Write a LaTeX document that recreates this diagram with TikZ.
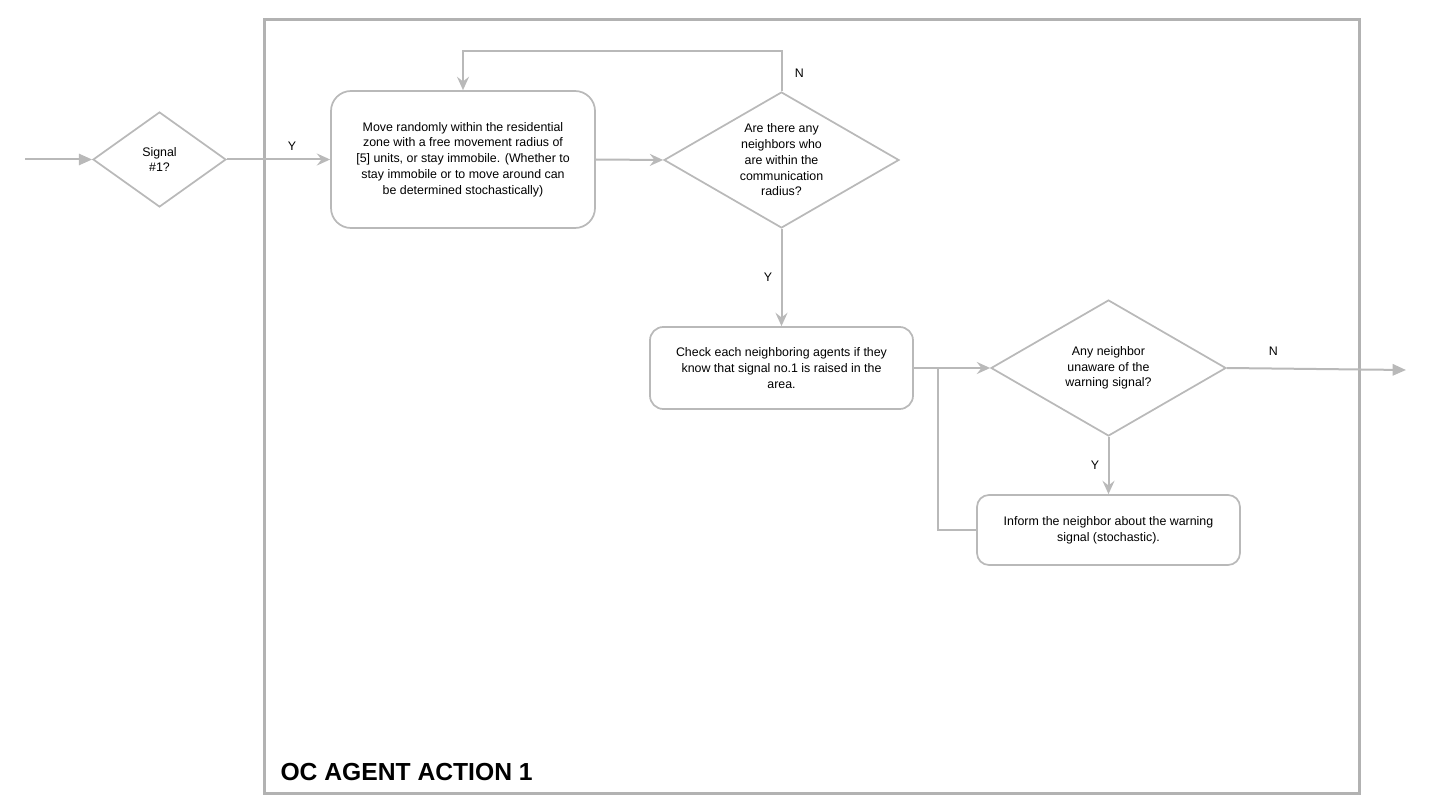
\documentclass[tikz,border=0pt]{standalone}
\usepackage{fontspec}
\setmainfont{Liberation Sans}
\usetikzlibrary{shapes.geometric,arrows.meta}

\definecolor{flowGray}{RGB}{185,185,185}
\definecolor{frameGray}{RGB}{178,178,178}

\tikzset{every picture/.style={line width=0.75pt}}
\tikzset{
	flowText/.style={font=\fontsize{9.3}{11.8}\selectfont, align=center, text=black},
	procBox/.style={flowText, draw=flowGray, line width=1.3pt, inner sep=0pt},
	decBox/.style={flowText, shape=diamond, draw=flowGray, line width=1.3pt, inner sep=0pt, aspect=1.7},
	flowLine/.style={draw=flowGray, line width=1.5pt},
	flowArrow/.style={flowLine, -{Stealth[length=10pt,width=9pt,inset=3.5pt]}},
	triArrow/.style={flowLine, -{Triangle[length=10pt,width=8.5pt]}},
	edgeLabel/.style={font=\fontsize{9.3}{11}\selectfont, text=black}}

\begin{document}
\begin{tikzpicture}[x=0.75pt,y=0.75pt,yscale=-1,xscale=1]
	\useasboundingbox (0,0) rectangle (1432,806);

	%Shape: Rectangle (swimlane frame)
	\draw [frameGray, line width=2.25pt] (264,20) rectangle (1359,793);

	%Shape: Diamond
	\node [decBox, minimum width=99.75pt, minimum height=71.25pt] (sig) at (159.5,159.5) {Signal\\\#1?};
	%Shape: Rounded Rect
	\node [procBox, rounded corners=15pt, minimum width=198pt, minimum height=102.75pt] (move) at (463,159.5) {Move randomly within the residential\\zone with a free movement radius of\\{[5]} units, or stay immobile. (Whether to\\stay immobile or to move around can\\be determined stochastically)};
	%Shape: Diamond
	\node [decBox, minimum width=176.25pt, minimum height=102pt] (nbr) at (781.5,160) {Are there any\\neighbors who\\are within the\\communication\\radius?};
	%Shape: Rounded Rect
	\node [procBox, rounded corners=10pt, minimum width=197.25pt, minimum height=61.5pt] (check) at (781.5,368) {Check each neighboring agents if they\\know that signal no.1 is raised in the\\area.};
	%Shape: Diamond
	\node [decBox, minimum width=176.25pt, minimum height=102pt] (unaware) at (1108.5,368) {Any neighbor\\unaware of the\\warning signal?};
	%Shape: Rounded Rect
	\node [procBox, rounded corners=9pt, minimum width=197.25pt, minimum height=52.5pt] (inform) at (1108.5,530) {Inform the neighbor about the warning\\signal (stochastic).};

	\coordinate (inStart) at (25,159.5);
	\coordinate (outEnd) at (1406,370);
	\coordinate (merge) at (938,368);

	%Straight Lines
	\draw [triArrow] (inStart) -- (sig.west);
	\draw [flowArrow] (sig.east) -- node [edgeLabel, above=3pt, pos=0.63] {Y} (move.west);
	\draw [flowArrow] (move.east) -- (nbr.west);
	\draw [flowArrow] (nbr.north) -- node [edgeLabel, right=6pt, pos=0.45] {N} ++(0,-40) -| (move.north);
	\draw [flowArrow] (nbr.south) -- node [edgeLabel, left=3pt] {Y} (check.north);
	\draw [flowArrow] (check.east) -- (unaware.west);
	\draw [triArrow] (unaware.east) -- node [edgeLabel, above=6pt, pos=0.26] {N} (outEnd);
	\draw [flowArrow] (unaware.south) -- node [edgeLabel, left=3pt] {Y} (inform.north);
	\draw [flowLine] (inform.west) -| (merge);

	% Text Node
	\node [anchor=base west, inner sep=0pt, font=\bfseries\fontsize{18.5}{22}\selectfont] (title) at (280,780) {OC AGENT ACTION 1};
\end{tikzpicture}
\end{document}
